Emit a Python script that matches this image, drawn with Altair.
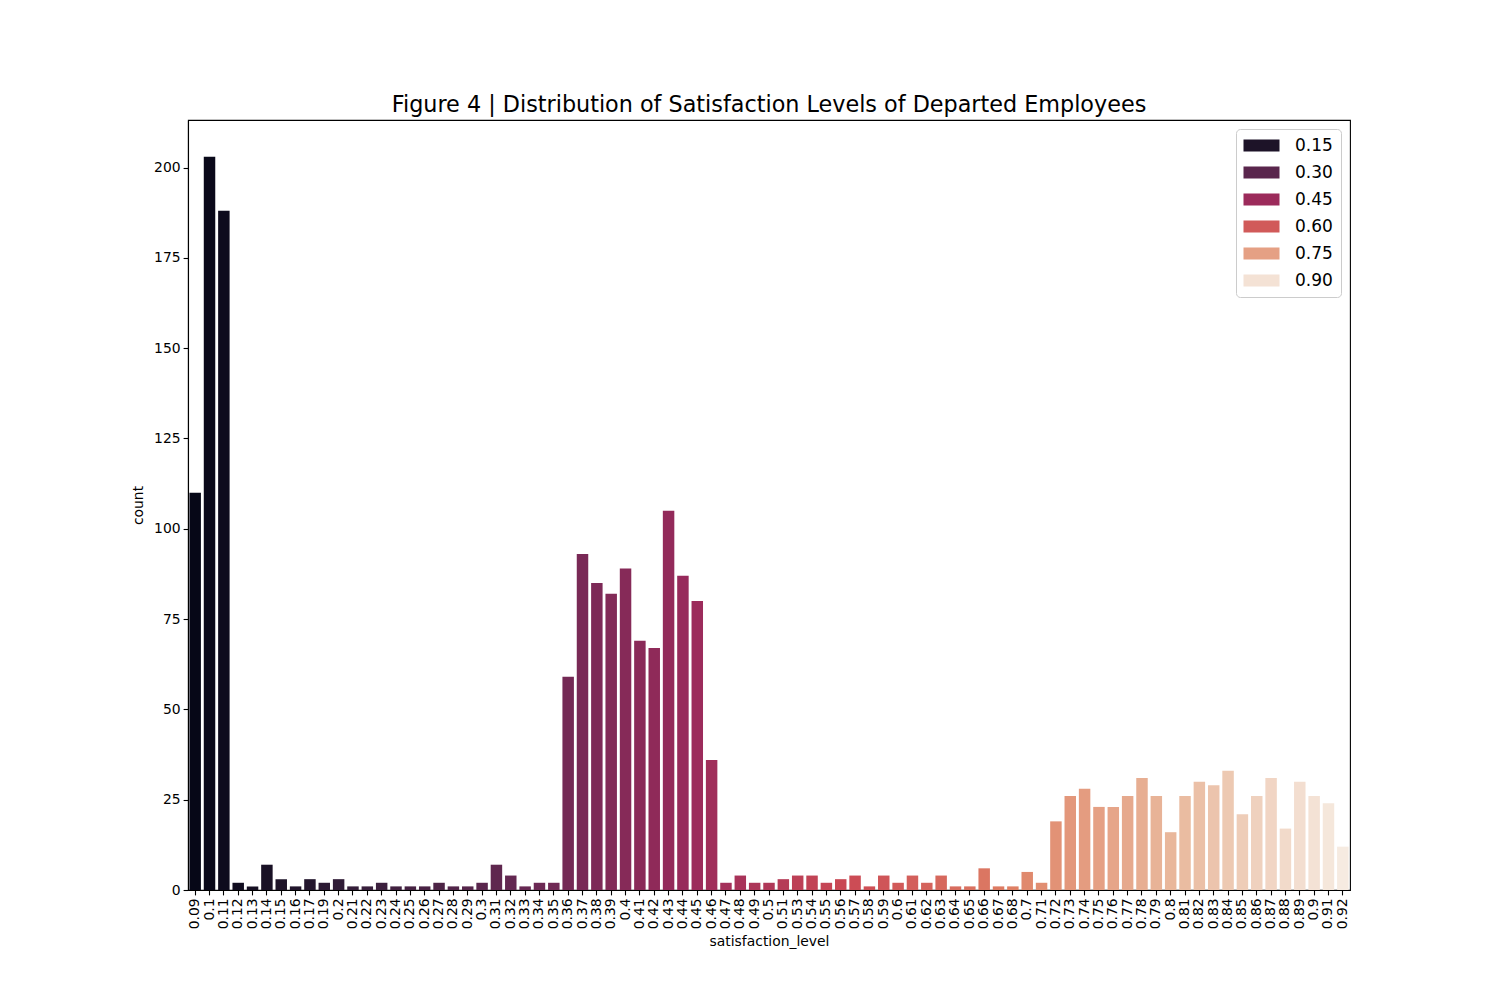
import altair as alt
import pandas as pd
import colorsys

levels = ["0.09", "0.1", "0.11", "0.12", "0.13", "0.14", "0.15", "0.16", "0.17", "0.19",
          "0.2", "0.21", "0.22", "0.23", "0.24", "0.25", "0.26", "0.27", "0.28", "0.29",
          "0.3", "0.31", "0.32", "0.33", "0.34", "0.35", "0.36", "0.37", "0.38", "0.39",
          "0.4", "0.41", "0.42", "0.43", "0.44", "0.45", "0.46", "0.47", "0.48", "0.49",
          "0.5", "0.51", "0.53", "0.54", "0.55", "0.56", "0.57", "0.58", "0.59",
          "0.6", "0.61", "0.62", "0.63", "0.64", "0.65", "0.66", "0.67", "0.68",
          "0.7", "0.71", "0.72", "0.73", "0.74", "0.75", "0.76", "0.77", "0.78", "0.79",
          "0.8", "0.81", "0.82", "0.83", "0.84", "0.85", "0.86", "0.87", "0.88", "0.89",
          "0.9", "0.91", "0.92"]

counts = [110, 203, 188, 2, 1, 7, 3, 1, 3, 2,
          3, 1, 1, 2, 1, 1, 1, 2, 1, 1,
          2, 7, 4, 1, 2, 2, 59, 93, 85, 82,
          89, 69, 67, 105, 87, 80, 36, 2, 4, 2,
          2, 3, 4, 4, 2, 3, 4, 1, 4,
          2, 4, 2, 4, 1, 1, 6, 1, 1,
          5, 2, 19, 26, 28, 23, 23, 26, 31, 26,
          16, 26, 30, 29, 33, 21, 26, 31, 17, 30,
          26, 24, 12]

legend_values = [0.15, 0.30, 0.45, 0.60, 0.75, 0.90]

rocket_colors = ["#03051a", "#35193e", "#701f57", "#ad1759",
                 "#e13342", "#f37651", "#f6b48f", "#faebdd"]


def desaturate(hex_color, prop=0.75):
    r, g, b = (int(hex_color[i:i + 2], 16) / 255 for i in (1, 3, 5))
    h, l, s = colorsys.rgb_to_hls(r, g, b)
    r, g, b = colorsys.hls_to_rgb(h, l, s * prop)
    return "#%02x%02x%02x" % (round(r * 255), round(g * 255), round(b * 255))


bar_colors = [desaturate(c) for c in rocket_colors]

df = pd.DataFrame({
    "satisfaction_level": levels,
    "level_value": [float(v) for v in levels],
    "count": counts,
})

lo, hi = min(df["level_value"]), max(df["level_value"])
n = len(bar_colors)
color_domain = [lo + (hi - lo) * k / (n - 1) for k in range(n)]

font = "DejaVu Sans"

chart = alt.Chart(df).mark_bar().encode(
    x=alt.X("satisfaction_level:N", sort=levels,
            scale=alt.Scale(paddingInner=0.2, paddingOuter=0.1),
            axis=alt.Axis(title="satisfaction_level", labelAngle=270,
                          labelFont=font, labelFontSize=13.9, labelColor="black",
                          titleFont=font, titleFontSize=13.9, titleFontWeight="normal",
                          titleColor="black", titlePadding=6,
                          tickColor="black", tickSize=4.9, labelPadding=3,
                          domainColor="black", domainWidth=1.1, tickWidth=1.1)),
    y=alt.Y("count:Q",
            scale=alt.Scale(domain=[0, 213.15], nice=False),
            axis=alt.Axis(title="count", values=[0, 25, 50, 75, 100, 125, 150, 175, 200],
                          grid=False, labelFont=font, labelFontSize=13.9,
                          labelColor="black", titleFont=font, titleFontSize=13.9,
                          titleFontWeight="normal", titleColor="black", titlePadding=8,
                          tickColor="black", tickSize=4.9, labelPadding=3,
                          domainColor="black", domainWidth=1.1, tickWidth=1.1)),
    color=alt.Color("level_value:Q",
                    scale=alt.Scale(domain=color_domain, range=bar_colors,
                                    interpolate="rgb"),
                    legend=alt.Legend(type="symbol", values=legend_values, title=None,
                                      format=".2f", orient="top-right", offset=9,
                                      symbolType="M-1.5,-1H4.5V1H-1.5Z",
                                      symbolSize=144, symbolStrokeWidth=0,
                                      symbolOpacity=1,
                                      labelFont=font, labelFontSize=17, labelColor="black",
                                      labelOffset=34, rowPadding=9,
                                      fillColor="white", strokeColor="#cccccc",
                                      cornerRadius=4, padding=8)),
).properties(
    width=1162,
    height=770,
    title=alt.TitleParams("Figure 4 | Distribution of Satisfaction Levels of Departed Employees",
                          font=font, fontSize=22.3, fontWeight="normal", color="black",
                          anchor="middle", offset=4),
    padding={"left": 180, "top": 112, "right": 142, "bottom": 102},
    autosize=alt.AutoSizeParams(type="none"),
).configure_view(
    stroke="black", strokeWidth=1.1
)

chart.save("out.html", embed_options={"renderer": "svg", "actions": False})
